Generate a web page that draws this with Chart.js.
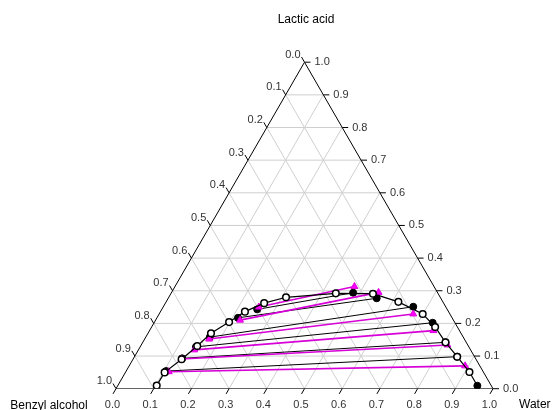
<!DOCTYPE html>
<html>
<head>
<meta charset="utf-8">
<script src="https://cdn.jsdelivr.net/npm/chart.js@4"></script>
<style>
  html, body { margin: 0; padding: 0; background: #fff; }
  #wrap { width: 557px; height: 410px; position: relative; }
</style>
</head>
<body>
<div id="wrap"><canvas id="tern"></canvas></div>
<script>
// axis tick values (same for all three sides)
const tickValues = [0.0, 0.1, 0.2, 0.3, 0.4, 0.5, 0.6, 0.7, 0.8, 0.9, 1.0];
const tickLabels = ["0.0", "0.1", "0.2", "0.3", "0.4", "0.5", "0.6", "0.7", "0.8", "0.9", "1.0"];

// binodal curve (mass fractions): water, lactic acid
const binodalWater  = [0.103, 0.104, 0.129, 0.150, 0.167, 0.198, 0.224, 0.262, 0.311, 0.437, 0.536, 0.616, 0.699, 0.752, 0.803, 0.856, 0.912];
const binodalLactic = [0.010, 0.050, 0.090, 0.131, 0.170, 0.204, 0.236, 0.262, 0.280, 0.292, 0.291, 0.266, 0.229, 0.189, 0.142, 0.098, 0.051];
const binodalEndWater = 0.954;
const binodalEndLactic = 0.009;

// experimental tie lines: organic (left) and aqueous (right) phase
const expOrgWater   = [0.253, 0.215, 0.170, 0.148, 0.129, 0.106];
const expOrgLactic  = [0.243, 0.217, 0.158, 0.128, 0.093, 0.054];
const expAqWater    = [0.482, 0.553, 0.663, 0.739, 0.803, 0.856];
const expAqLactic   = [0.294, 0.277, 0.251, 0.202, 0.142, 0.098];

// calculated tie lines
const calcOrgWater  = [0.254, 0.224, 0.171, 0.148, 0.128, 0.114];
const calcOrgLactic = [0.250, 0.210, 0.152, 0.119, 0.091, 0.052];
const calcAqWater   = [0.476, 0.549, 0.674, 0.753, 0.812, 0.891];
const calcAqLactic  = [0.313, 0.295, 0.229, 0.178, 0.134, 0.070];

const H = Math.sqrt(3) / 2;
function pt(w, l) { return { x: w + l / 2, y: l * H }; }

const datasets = [];

// grid lines
const gridColor = "#cfcfcf";
for (let i = 1; i < tickValues.length - 1; i++) {
  const v = tickValues[i];
  [[pt(0, v), pt(1 - v, v)], [pt(v, 0), pt(v, 1 - v)], [pt(1 - v, 0), pt(0, 1 - v)]].forEach(seg => {
    datasets.push({ data: seg, showLine: true, borderColor: gridColor, borderWidth: 1, pointRadius: 0, order: 20 });
  });
}

// triangle outline
datasets.push({
  data: [pt(0, 0), pt(1, 0), pt(0, 1), pt(0, 0)],
  showLine: true, borderColor: "#000", borderWidth: 1, pointRadius: 0, order: 19
});

// experimental tie lines
expOrgWater.forEach((w, i) => {
  datasets.push({
    data: [pt(w, expOrgLactic[i]), pt(expAqWater[i], expAqLactic[i])],
    showLine: true, borderColor: "#000", borderWidth: 1,
    pointRadius: 3.5, pointBackgroundColor: "#000", pointBorderColor: "#000", pointBorderWidth: 1,
    order: 6
  });
});

// calculated tie lines
calcOrgWater.forEach((w, i) => {
  datasets.push({
    data: [pt(w, calcOrgLactic[i]), pt(calcAqWater[i], calcAqLactic[i])],
    showLine: true, borderColor: "#d800d8", borderWidth: 1.6,
    pointStyle: "triangle", pointRadius: 4, pointBackgroundColor: "#ff00ff", pointBorderColor: "#e000e0", pointBorderWidth: 1,
    order: 5
  });
});

// binodal line + end point
const binodalPts = binodalWater.map((w, i) => pt(w, binodalLactic[i]));
datasets.push({
  data: binodalPts.concat([pt(binodalEndWater, binodalEndLactic)]),
  showLine: true, borderColor: "#000", borderWidth: 1.2, pointRadius: 0, order: 4
});
datasets.push({
  data: [pt(binodalEndWater, binodalEndLactic)],
  pointRadius: 3.5, pointBackgroundColor: "#000", pointBorderColor: "#000", order: 3
});
datasets.push({
  data: binodalPts,
  pointRadius: 3.3, pointBackgroundColor: "#fff", pointBorderColor: "#000", pointBorderWidth: 1.5, order: 2
});

// ticks, tick labels and axis titles
const ternaryAxes = {
  id: "ternaryAxes",
  afterDatasetsDraw(chart) {
    const { ctx, scales: { x, y } } = chart;
    const px = p => [x.getPixelForValue(p.x), y.getPixelForValue(p.y)];
    ctx.save();
    ctx.strokeStyle = "#000";
    ctx.lineWidth = 1;
    ctx.fillStyle = "#333";
    ctx.font = "11px Arial, 'Liberation Sans', sans-serif";
    tickValues.forEach((v, i) => {
      // bottom: water
      let [bx, by] = px(pt(v, 0));
      ctx.beginPath(); ctx.moveTo(bx, by); ctx.lineTo(bx - 3, by + 5.2); ctx.stroke();
      ctx.textAlign = "center"; ctx.textBaseline = "middle";
      ctx.fillText(tickLabels[i], bx - 3.5, by + 16);
      // left: benzyl alcohol (0 at top)
      let [lx, ly] = px(pt(0, 1 - v));
      ctx.beginPath(); ctx.moveTo(lx, ly); ctx.lineTo(lx - 3, ly - 5.2); ctx.stroke();
      ctx.textAlign = "right";
      ctx.fillText(tickLabels[i], lx - 4, ly - 7.5);
      // right: lactic acid
      let [rx, ry] = px(pt(1 - v, v));
      ctx.beginPath(); ctx.moveTo(rx, ry); ctx.lineTo(rx + 6, ry); ctx.stroke();
      ctx.textAlign = "left";
      ctx.fillText(tickLabels[i], rx + 10, ry);
    });
    ctx.fillStyle = "#000";
    ctx.font = "12px Arial, 'Liberation Sans', sans-serif";
    ctx.textBaseline = "middle";
    ctx.textAlign = "center";
    ctx.fillText("Lactic acid", 306, 20);
    ctx.fillText("Benzyl alcohol", 49, 406);
    ctx.textAlign = "left";
    ctx.fillText("Water", 519, 405);
    ctx.restore();
  }
};

new Chart(document.getElementById("tern").getContext("2d"), {
  type: "scatter",
  data: { datasets },
  options: {
    responsive: true,
    maintainAspectRatio: false,
    animation: false,
    layout: { padding: { left: 116, right: 64, top: 62.2, bottom: 21.3 } },
    plugins: { legend: { display: false }, tooltip: { enabled: false } },
    scales: {
      x: { type: "linear", min: 0, max: 1, display: false },
      y: { type: "linear", min: 0, max: H, display: false }
    },
    elements: { line: { tension: 0 } }
  },
  plugins: [ternaryAxes]
});
</script>
</body>
</html>
